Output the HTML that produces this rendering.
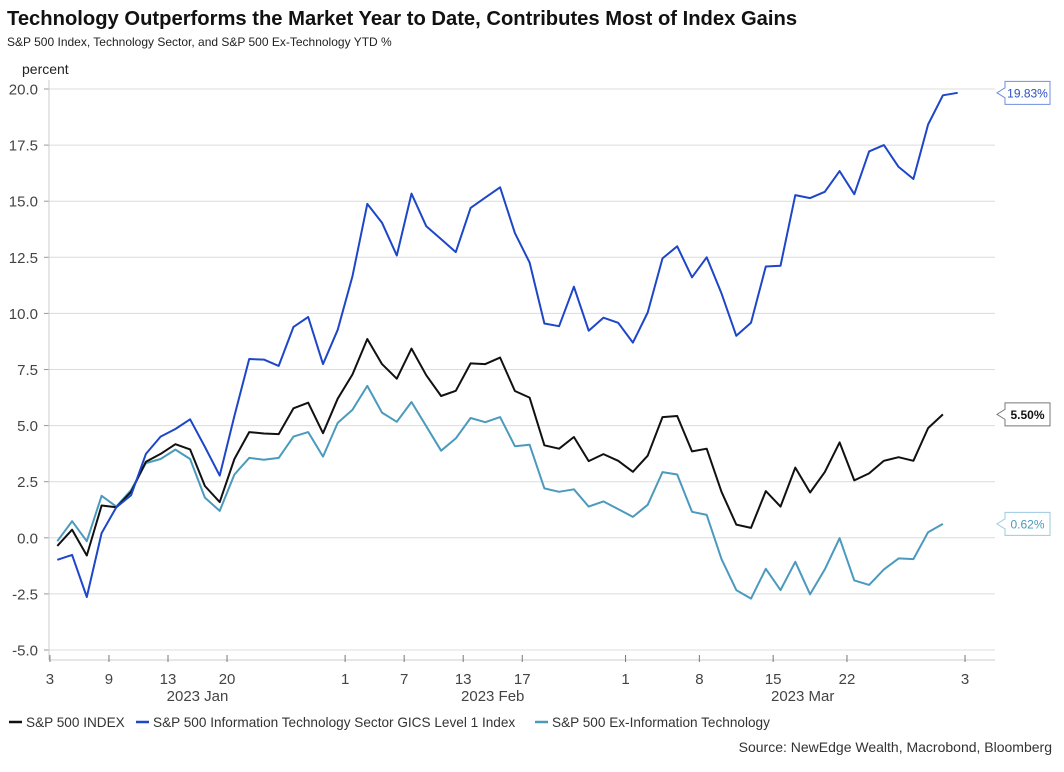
<!DOCTYPE html>
<html><head><meta charset="utf-8"><style>
body{margin:0;background:#fff;width:1064px;height:767px;overflow:hidden;font-family:"Liberation Sans",Arial,sans-serif;}
svg text{font-family:"Liberation Sans",Arial,sans-serif;}
</style></head><body>
<svg id="chart" width="1064" height="767" xmlns="http://www.w3.org/2000/svg">
<text x="7" y="25" font-size="20.2" font-weight="bold" fill="#111">Technology Outperforms the Market Year to Date, Contributes Most of Index Gains</text>
<text x="7" y="46" font-size="12" fill="#222">S&amp;P 500 Index, Technology Sector, and S&amp;P 500 Ex-Technology YTD %</text>
<text x="22" y="74" font-size="14" fill="#222">percent</text>
<g id="grid"></g><g id="yaxis"></g><g id="xaxis"></g><g id="series"></g><g id="labels"></g>
<g>
<line x1="9" y1="722" x2="22" y2="722" stroke="#111" stroke-width="2.5"/>
<text x="26" y="727" font-size="13.6" fill="#333">S&amp;P 500 INDEX</text>
<line x1="136" y1="722" x2="149" y2="722" stroke="#1d46c8" stroke-width="2.5"/>
<text x="153" y="727" font-size="13.6" fill="#333">S&amp;P 500 Information Technology Sector GICS Level 1 Index</text>
<line x1="535" y1="722" x2="548" y2="722" stroke="#4b9abd" stroke-width="2.5"/>
<text x="552" y="727" font-size="13.6" fill="#333">S&amp;P 500 Ex-Information Technology</text>
</g>
<text x="1052" y="752" text-anchor="end" font-size="14" fill="#333">Source: NewEdge Wealth, Macrobond, Bloomberg</text>
</svg>
<script>
const spx=[-0.36,0.36,-0.79,1.44,1.36,2.05,3.39,3.74,4.17,3.94,2.31,1.59,3.51,4.71,4.65,4.62,5.77,6.02,4.66,6.20,7.28,8.86,7.74,7.09,8.43,7.24,6.32,6.55,7.77,7.74,8.03,6.54,6.25,4.12,3.97,4.49,3.42,3.73,3.43,2.94,3.66,5.38,5.43,3.85,3.97,2.05,0.59,0.44,2.08,1.39,3.13,2.02,2.93,4.25,2.56,2.87,3.43,3.59,3.43,4.89,5.50];
const tech=[-0.98,-0.76,-2.64,0.21,1.36,1.90,3.74,4.51,4.85,5.28,4.05,2.77,5.43,7.97,7.94,7.66,9.40,9.84,7.74,9.27,11.66,14.88,14.04,12.58,15.34,13.88,13.31,12.73,14.70,15.16,15.62,13.58,12.27,9.55,9.43,11.19,9.23,9.81,9.58,8.70,10.04,12.45,12.99,11.61,12.50,10.89,9.00,9.58,12.09,12.12,15.27,15.14,15.42,16.34,15.31,17.22,17.50,16.53,15.99,18.42,19.72,19.83];
const exTech=[-0.15,0.74,-0.15,1.87,1.39,2.13,3.33,3.51,3.93,3.51,1.79,1.20,2.82,3.56,3.48,3.56,4.51,4.71,3.62,5.12,5.71,6.77,5.58,5.17,6.05,4.97,3.88,4.43,5.34,5.15,5.38,4.08,4.15,2.20,2.05,2.16,1.39,1.62,1.28,0.93,1.47,2.93,2.82,1.16,1.02,-0.95,-2.33,-2.71,-1.38,-2.33,-1.07,-2.52,-1.41,-0.02,-1.90,-2.10,-1.41,-0.92,-0.95,0.25,0.62];
const yTicks=[-5,-2.5,0,2.5,5,7.5,10,12.5,15,17.5,20];
const xTickLabels=["3","9","13","20","1","7","13","17","1","8","15","22","3"];
const xTickIdx=[-0.5,3.5,7.5,11.5,19.5,23.5,27.5,31.5,38.5,43.5,48.5,53.5,61.5];
const monthLabels=["2023 Jan","2023 Feb","2023 Mar"];
const monthIdx=[9.5,29.5,50.5];
const lastLabels=["19.83%","5.50%","0.62%"];
const NS="http://www.w3.org/2000/svg";
const X0=49,X1=995,Y20=89,Ym5=650;
const x=i=>57.3+i*14.76;
const y=v=>Y20+(20-v)*(Ym5-Y20)/25;
function mk(tag,attrs,parent){const e=document.createElementNS(NS,tag);for(const k in attrs)e.setAttribute(k,attrs[k]);parent.appendChild(e);return e;}
const grid=document.getElementById('grid'),ya=document.getElementById('yaxis'),xa=document.getElementById('xaxis'),sg=document.getElementById('series'),lg=document.getElementById('labels');
yTicks.forEach(t=>{
 const l=mk('line',{x1:X0,x2:X1,y1:y(t),y2:y(t),stroke:'#dcdcdc','stroke-width':1},grid);
 
 
 mk('line',{x1:X0-5,x2:X0,y1:y(t),y2:y(t),stroke:'#999'},ya);
 const tx=mk('text',{x:38,y:y(t)+5.5,'text-anchor':'end','font-size':15,fill:'#444'},ya);
 tx.textContent=t.toFixed(1);
 
 
});
mk('line',{x1:X0,x2:X0,y1:80,y2:660,stroke:'#ccc'},ya);
mk('line',{x1:X0,x2:X1,y1:660,y2:660,stroke:'#ccc'},xa);
xTickLabels.forEach((s,k)=>{
 const px=x(xTickIdx[k]);
 mk('line',{x1:px,x2:px,y1:655,y2:662,stroke:'#777'},xa);
 const tx=mk('text',{x:px,y:684,'text-anchor':'middle','font-size':15,fill:'#444'},xa);
 tx.textContent=s;
 
 
});
monthLabels.forEach((s,k)=>{
 const tx=mk('text',{x:x(monthIdx[k]),y:701,'text-anchor':'middle','font-size':15,fill:'#444'},xa);
 tx.textContent=s;
 
 
});
function line(data,color,name){
 const p=mk('polyline',{points:data.map((v,i)=>x(i).toFixed(1)+','+y(v).toFixed(1)).join(' '),fill:'none',stroke:color,'stroke-width':2,'stroke-linejoin':'round'},sg);
 
 
}
line(exTech,'#4b9abd','series-ex-tech');
line(spx,'#111','series-sp500');
line(tech,'#1d46c8','series-tech');
function tag(data,text,stroke,fill,bold,name){
 const cy=y(data[data.length-1]);
 const g=mk('g',{},lg);
 
 
 mk('path',{d:`M1005 ${cy-11.5} H1050 V${cy+11.5} H1005 V${cy+5} L997 ${cy} L1005 ${cy-5} Z`,fill:'#fff',stroke:stroke,'stroke-width':1},g);
 const t=mk('text',{x:1027.5,y:cy+4.5,'text-anchor':'middle','font-size':12,fill:fill,'font-weight':bold?'bold':'normal'},g);
 t.textContent=text;
}
tag(tech,lastLabels[0],'#6d8ee0','#2b4fc4',false,'last-value-tech');
tag(spx,lastLabels[1],'#777','#111',true,'last-value-sp500');
tag(exTech,lastLabels[2],'#9cc9de','#4b9abd',false,'last-value-ex-tech');
</script>
</body></html>
